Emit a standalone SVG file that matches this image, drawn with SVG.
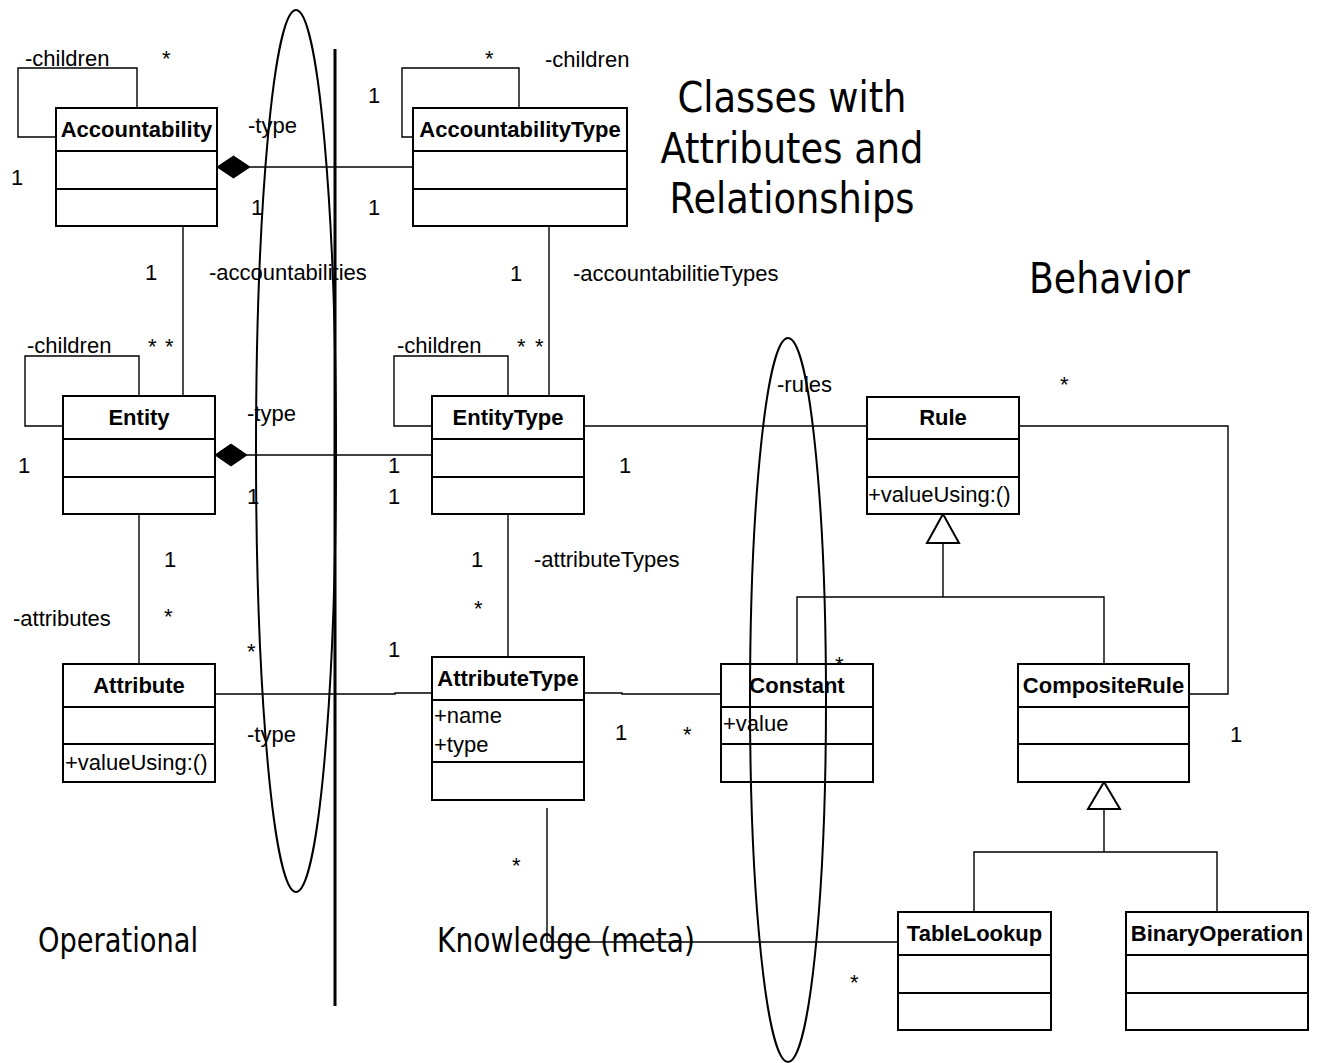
<svg xmlns="http://www.w3.org/2000/svg" width="1318" height="1063" viewBox="0 0 1318 1063">
<style>
.bg{fill:#fff}
.box{fill:#fff;stroke:#000;stroke-width:2}
.div{stroke:#000;stroke-width:2}
.title{font-family:"Liberation Sans",Arial,sans-serif;font-weight:bold;font-size:22px;text-anchor:middle;fill:#000}
.attr{font-family:"Liberation Sans",Arial,sans-serif;font-size:22px;fill:#000}
.lbl{font-family:"Liberation Sans",Arial,sans-serif;font-size:22px;fill:#000}
.big{font-family:"DejaVu Sans",Tahoma,sans-serif;fill:#000}
.conn{fill:none;stroke:#000;stroke-width:1.4}
.dia{fill:#000;stroke:#000;stroke-width:1}
.gen{fill:#fff;stroke:#000;stroke-width:2}
.oval{fill:none;stroke:#000;stroke-width:2}
</style>
<rect class="bg" x="0" y="0" width="1318" height="1063"/>

<g id="headings">
<text class="big" font-size="42" x="792" y="112" text-anchor="middle" textLength="229" lengthAdjust="spacingAndGlyphs">Classes with</text>
<text class="big" font-size="42" x="792" y="163" text-anchor="middle" textLength="263" lengthAdjust="spacingAndGlyphs">Attributes and</text>
<text class="big" font-size="42" x="792" y="213" text-anchor="middle" textLength="245" lengthAdjust="spacingAndGlyphs">Relationships</text>
<text class="big" font-size="42" x="1029" y="293" textLength="161" lengthAdjust="spacingAndGlyphs">Behavior</text>
<text class="big" font-size="33" x="38" y="952" textLength="160" lengthAdjust="spacingAndGlyphs">Operational</text>
<text class="big" font-size="33" x="437" y="952" textLength="258" lengthAdjust="spacingAndGlyphs">Knowledge (meta)</text>
</g>

<g id="connectors">
<path class="conn" d="M56,137 H18 V68 H137 V108"/>
<path class="conn" d="M413,137 H402 V68 H519 V108"/>
<path class="conn" d="M63,426 H25 V356 H139 V396"/>
<path class="conn" d="M432,426 H394 V356 H508 V396"/>
<path class="conn" d="M250,167 H413"/>
<polygon class="dia" points="217,167 233.5,156 250,167 233.5,178"/>
<path class="conn" d="M247,455 H432"/>
<polygon class="dia" points="215,455 231,444 247,455 231,466"/>
<path class="conn" d="M183,226 V396"/>
<path class="conn" d="M549,226 V396"/>
<path class="conn" d="M139,514 V664"/>
<path class="conn" d="M508,514 V657"/>
<path class="conn" d="M584,426 H867"/>
<path class="conn" d="M1019,426 H1228 V694 H1189"/>
<path class="conn" d="M215,694 H395 V693 H432"/>
<path class="conn" d="M584,693 H622 V694 H721"/>
<path class="conn" d="M547,808 V942 H898"/>
<path class="conn" d="M943,543 V597"/>
<path class="conn" d="M797,667 V597 H1104 V664"/>
<polygon class="gen" points="943,514 927,543 959,543"/>
<path class="conn" d="M1104,809 V852"/>
<path class="conn" d="M974,912 V852 H1217 V912"/>
<polygon class="gen" points="1104,782 1088,809 1120,809"/>
</g>

<g id="labels">
<text class="lbl" x="25" y="66">-children</text>
<text class="lbl" x="162" y="66">*</text>
<text class="lbl" x="11" y="185">1</text>
<text class="lbl" x="248" y="133">-type</text>
<text class="lbl" x="251" y="215">1</text>
<text class="lbl" x="368" y="103">1</text>
<text class="lbl" x="368" y="215">1</text>
<text class="lbl" x="485" y="66">*</text>
<text class="lbl" x="545" y="67">-children</text>
<text class="lbl" x="145" y="280">1</text>
<text class="lbl" x="209" y="280">-accountabilities</text>
<text class="lbl" x="510" y="281">1</text>
<text class="lbl" x="573" y="281">-accountabilitieTypes</text>
<text class="lbl" x="27" y="353">-children</text>
<text class="lbl" x="148" y="354">*</text>
<text class="lbl" x="165" y="354">*</text>
<text class="lbl" x="18" y="473">1</text>
<text class="lbl" x="247" y="421">-type</text>
<text class="lbl" x="247" y="504">1</text>
<text class="lbl" x="388" y="473">1</text>
<text class="lbl" x="388" y="504">1</text>
<text class="lbl" x="397" y="353">-children</text>
<text class="lbl" x="517" y="354">*</text>
<text class="lbl" x="535" y="354">*</text>
<text class="lbl" x="619" y="473">1</text>
<text class="lbl" x="777" y="392">-rules</text>
<text class="lbl" x="1060" y="392">*</text>
<text class="lbl" x="164" y="567">1</text>
<text class="lbl" x="164" y="624">*</text>
<text class="lbl" x="13" y="626">-attributes</text>
<text class="lbl" x="247" y="659">*</text>
<text class="lbl" x="388" y="657">1</text>
<text class="lbl" x="247" y="742">-type</text>
<text class="lbl" x="471" y="567">1</text>
<text class="lbl" x="534" y="567">-attributeTypes</text>
<text class="lbl" x="474" y="616">*</text>
<text class="lbl" x="615" y="740">1</text>
<text class="lbl" x="683" y="742">*</text>
<text class="lbl" x="835" y="672">*</text>
<text class="lbl" x="1230" y="742">1</text>
<text class="lbl" x="512" y="873">*</text>
<text class="lbl" x="850" y="990">*</text>
</g>

<g id="Accountability">
<rect class="box" x="56" y="108" width="161" height="118"/>
<line class="div" x1="56" y1="151" x2="217" y2="151"/>
<line class="div" x1="56" y1="189" x2="217" y2="189"/>
<text class="title" x="136.5" y="137">Accountability</text>
</g>

<g id="AccountabilityType">
<rect class="box" x="413" y="108" width="214" height="118"/>
<line class="div" x1="413" y1="151" x2="627" y2="151"/>
<line class="div" x1="413" y1="189" x2="627" y2="189"/>
<text class="title" x="520" y="137">AccountabilityType</text>
</g>

<g id="Entity">
<rect class="box" x="63" y="396" width="152" height="118"/>
<line class="div" x1="63" y1="439" x2="215" y2="439"/>
<line class="div" x1="63" y1="477" x2="215" y2="477"/>
<text class="title" x="139" y="425">Entity</text>
</g>

<g id="EntityType">
<rect class="box" x="432" y="396" width="152" height="118"/>
<line class="div" x1="432" y1="439" x2="584" y2="439"/>
<line class="div" x1="432" y1="477" x2="584" y2="477"/>
<text class="title" x="508" y="425">EntityType</text>
</g>

<g id="Rule">
<rect class="box" x="867" y="397" width="152" height="117"/>
<line class="div" x1="867" y1="439" x2="1019" y2="439"/>
<line class="div" x1="867" y1="477" x2="1019" y2="477"/>
<text class="title" x="943" y="425">Rule</text>
<text class="attr" x="868" y="502">+valueUsing:()</text>
</g>

<g id="Attribute">
<rect class="box" x="63" y="664" width="152" height="118"/>
<line class="div" x1="63" y1="707" x2="215" y2="707"/>
<line class="div" x1="63" y1="744" x2="215" y2="744"/>
<text class="title" x="139" y="693">Attribute</text>
<text class="attr" x="65" y="770">+valueUsing:()</text>
</g>

<g id="AttributeType">
<rect class="box" x="432" y="657" width="152" height="143"/>
<line class="div" x1="432" y1="700" x2="584" y2="700"/>
<line class="div" x1="432" y1="762" x2="584" y2="762"/>
<text class="title" x="508" y="686">AttributeType</text>
<text class="attr" x="434" y="723">+name</text>
<text class="attr" x="434" y="752">+type</text>
</g>

<g id="Constant">
<rect class="box" x="721" y="664" width="152" height="118"/>
<line class="div" x1="721" y1="707" x2="873" y2="707"/>
<line class="div" x1="721" y1="744" x2="873" y2="744"/>
<text class="title" x="797" y="693">Constant</text>
<text class="attr" x="723" y="731">+value</text>
</g>

<g id="CompositeRule">
<rect class="box" x="1018" y="664" width="171" height="118"/>
<line class="div" x1="1018" y1="707" x2="1189" y2="707"/>
<line class="div" x1="1018" y1="744" x2="1189" y2="744"/>
<text class="title" x="1103.5" y="693">CompositeRule</text>
</g>

<g id="TableLookup">
<rect class="box" x="898" y="912" width="153" height="118"/>
<line class="div" x1="898" y1="955" x2="1051" y2="955"/>
<line class="div" x1="898" y1="993" x2="1051" y2="993"/>
<text class="title" x="974.5" y="941">TableLookup</text>
</g>

<g id="BinaryOperation">
<rect class="box" x="1126" y="912" width="182" height="118"/>
<line class="div" x1="1126" y1="955" x2="1308" y2="955"/>
<line class="div" x1="1126" y1="993" x2="1308" y2="993"/>
<text class="title" x="1217" y="941">BinaryOperation</text>
</g>

<g id="separators">
<line x1="335" y1="49" x2="335" y2="1006" stroke="#000" stroke-width="3"/>
<ellipse class="oval" cx="296" cy="451" rx="40" ry="441"/>
<ellipse class="oval" cx="788" cy="700" rx="38" ry="362"/>
</g>
</svg>
